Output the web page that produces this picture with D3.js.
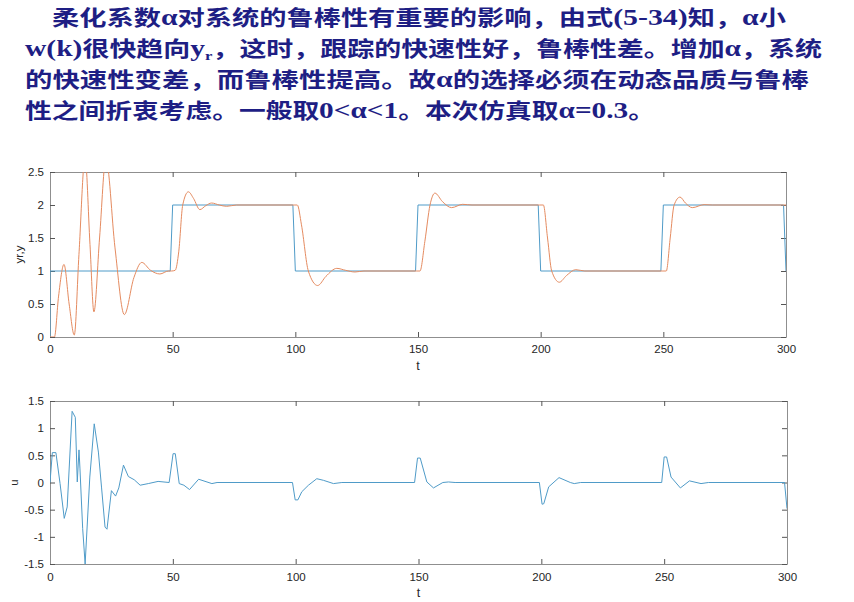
<!DOCTYPE html>
<html>
<head>
<meta charset="utf-8">
<script src="https://cdn.jsdelivr.net/npm/d3@7"></script>
<style>
  html, body { margin: 0; padding: 0; background: #fff; }
  svg { display: block; }
</style>
</head>
<body>
<script>
// ---------------- data ----------------
// header text lines: [kind, text]  c = CJK, l = latin (Times bold), s = subscript
const textLine1 = [["c","柔化系数"],["l","α"],["c","对系统的鲁棒性有重要的影响，由式"],["l","(5-34)"],["c","知，"],["l","α"],["c","小"]];
const textLine2 = [["l","w(k)"],["c","很快趋向"],["l","y"],["s","r"],["c","，这时，跟踪的快速性好，鲁棒性差。增加"],["l","α"],["c","，系统"]];
const textLine3 = [["c","的快速性变差，而鲁棒性提高。故"],["l","α"],["c","的选择必须在动态品质与鲁棒"]];
const textLine4 = [["c","性之间折衷考虑。一般取"],["l","0<α<1"],["c","。本次仿真取"],["l","α=0.3"],["c","。"]];

// reference signal yr (time, value)
const tYr = [0, 0, 49, 50, 99, 100, 149, 150, 199, 200, 249, 250, 299, 300];
const vYr = [0, 1, 1, 2, 2, 1, 1, 2, 2, 1, 1, 2, 2, 1];

// output y (time, value)
const tY = [0, 1.8, 3.5, 5.7, 7.8, 9.9, 11.8, 14.3, 16.3, 17.9, 20.2, 22.8, 26.5, 30.3, 34.2, 37.4, 41, 44.8, 48.3, 49.5,
  51, 52.5, 54.1, 56.4, 58.5, 61.1, 63.5, 65.9, 69, 72, 76, 99.5,
  100.8, 102.5, 105.3, 109.1, 112.5, 116.9, 120.5, 124.3, 128, 149.5,
  150.8, 152.8, 154.9, 156.9, 160, 163.7, 168.2, 172, 199.5,
  201.1, 202.8, 204.5, 207.6, 210.5, 214.3, 218, 249.5,
  251.2, 252.8, 254.4, 256.8, 259, 261.8, 266.6, 270, 300];
const vY = [0, 0, 0.62, 1.10, 0.5, 0.03, 1.25, 2.72, 1.4, 0.38, 1.5, 2.7, 1.35, 0.34, 0.9, 1.13, 1.01, 0.955, 1.0, 1.0,
  1.01, 1.3, 2.0, 2.2, 2.1, 1.93, 1.99, 2.03, 2.0, 1.98, 2.0, 2.0,
  2.0, 1.7, 1.0, 0.78, 0.92, 1.04, 1.01, 0.985, 1.0, 1.0,
  1.0, 1.45, 2.0, 2.18, 2.05, 1.96, 2.01, 2.0, 2.0,
  2.0, 1.5, 1.0, 0.83, 0.93, 1.02, 1.0, 1.0,
  1.0, 1.5, 2.0, 2.12, 2.03, 1.96, 2.005, 2.0, 2.0];

// control u (time, value)
const tU = [0, 0.95, 2.4, 4.1, 5.8, 7.0, 9.0, 10.3, 11.1, 11.8, 12.2, 13.3, 14.3, 16.2, 18.0, 19.7, 21.0, 22.4, 23.2,
  25.0, 26.7, 28.0, 29.9, 31.9, 34.3, 36.7, 40, 44, 48.5, 50.1, 51.0, 52.6, 54.5, 56.8, 60.5, 65.9, 68,
  98.7, 99.8, 100.9, 102.5, 105.2, 108.6, 111.3, 115.4, 118.8,
  148.4, 149.6, 150.7, 153.4, 156.1, 159.9, 162.2, 164.9,
  199.2, 200.3, 201, 203, 207.2, 211.8, 213.4, 216,
  249, 250, 251, 252.8, 256.6, 260.3, 265, 268, 299, 300];
const vU = [0, 0.55, 0.55, -0.02, -0.66, -0.45, 1.31, 1.2, 0.01, 0.6, 0.25, -0.85, -1.5, 0.1, 1.08, 0.56, -0.1, -0.82, -0.86,
  -0.15, -0.25, -0.1, 0.32, 0.11, 0.05, -0.05, -0.02, 0.02, 0.0, 0.53, 0.53, -0.02, -0.05, -0.13, 0.06, -0.02, 0,
  0, -0.32, -0.32, -0.17, -0.05, 0.07, 0.04, -0.02, 0,
  0, 0.45, 0.45, 0.01, -0.1, 0, 0.01, 0,
  0, -0.4, -0.39, -0.08, 0.09, 0, -0.02, 0,
  0, 0.47, 0.47, 0.1, -0.1, 0.03, -0.02, 0, 0, -0.48];

// tick values / labels
const xTicks = [0, 50, 100, 150, 200, 250, 300];
const xTickLabels = ["0", "50", "100", "150", "200", "250", "300"];
const yTopTicks = [0, 0.5, 1, 1.5, 2, 2.5];
const yTopTickLabels = ["0", "0.5", "1", "1.5", "2", "2.5"];
const yBotTicks = [-1.5, -1, -0.5, 0, 0.5, 1, 1.5];
const yBotTickLabels = ["-1.5", "-1", "-0.5", "0", "0.5", "1", "1.5"];
const labelTopY = "yr,y";
const labelBotY = "u";
const labelX = "t";

// ---------------- drawing ----------------
const W = 854, H = 602;
const svg = d3.select("body").append("svg").attr("width", W).attr("height", H);
svg.append("rect").attr("width", W).attr("height", H).attr("fill", "#fff");

// header text
const TEXT_COLOR = "#1e1e84";
const headerLines = [
  {segs: textLine1, x: 52, end: 786, y: 25},
  {segs: textLine2, x: 25, end: 822, y: 56},
  {segs: textLine3, x: 25, end: 809, y: 87},
  {segs: textLine4, x: 25, end: 655, y: 118}
];
headerLines.forEach(line => {
  const t = svg.append("text")
    .attr("x", line.x).attr("y", line.y)
    .attr("fill", TEXT_COLOR)
    .attr("font-size", 21)
    .attr("textLength", line.end - line.x)
    .attr("lengthAdjust", "spacingAndGlyphs");
  let shifted = 0;
  line.segs.forEach(([kind, str]) => {
    const ts = t.append("tspan").text(str);
    if (kind === "c") {
      ts.attr("font-family", "'Noto Sans CJK SC', sans-serif").attr("font-weight", "bold");
    } else {
      ts.attr("font-family", "'Liberation Serif', 'Times New Roman', serif").attr("font-weight", "bold")
        .attr("font-size", 23);
    }
    if (kind === "s") {
      ts.attr("font-size", 13).attr("dy", 3.5);
      shifted = 3.5;
    } else if (shifted) {
      ts.attr("dy", -shifted);
      shifted = 0;
    }
  });
});

const AXIS_COLOR = "#8f8f8f";
const LABEL_COLOR = "#262626";
const FONT = "'Liberation Sans', Arial, sans-serif";

function panel(opts) {
  const {left, right, top, bottom, yDomain, yTicks, yLabels, yTitle, yTitleX, xPad, id} = opts;
  const x = d3.scaleLinear().domain([0, 300]).range([left, right]);
  const y = d3.scaleLinear().domain(yDomain).range([bottom, top]);
  const g = svg.append("g");

  svg.append("clipPath").attr("id", id).append("rect")
    .attr("x", left).attr("y", top).attr("width", right - left).attr("height", bottom - top);

  const styleAxis = (sel) => {
    sel.select(".domain").attr("stroke", AXIS_COLOR).attr("stroke-width", 1);
    sel.selectAll(".tick line").attr("stroke", "#555").attr("stroke-width", 1);
    sel.selectAll(".tick text").attr("fill", LABEL_COLOR).attr("font-family", FONT).attr("font-size", 11.5);
  };

  g.append("g").attr("transform", `translate(0,${bottom})`)
    .call(d3.axisBottom(x).tickValues(xTicks).tickFormat((d, i) => xTickLabels[i])
      .tickSizeInner(-5).tickSizeOuter(0).tickPadding(xPad))
    .call(styleAxis);
  g.append("g").attr("transform", `translate(0,${top})`)
    .call(d3.axisTop(x).tickValues(xTicks).tickFormat("").tickSizeInner(-5).tickSizeOuter(0))
    .call(styleAxis);
  g.append("g").attr("transform", `translate(${left},0)`)
    .call(d3.axisLeft(y).tickValues(yTicks).tickFormat((d, i) => yLabels[i])
      .tickSizeInner(-5).tickSizeOuter(0).tickPadding(6))
    .call(styleAxis);
  g.append("g").attr("transform", `translate(${right},0)`)
    .call(d3.axisRight(y).tickValues(yTicks).tickFormat("").tickSizeInner(-5).tickSizeOuter(0))
    .call(styleAxis);

  // axis titles
  g.append("text")
    .attr("transform", `translate(${yTitleX},${(top + bottom) / 2}) rotate(-90)`)
    .attr("text-anchor", "middle").attr("dy", "0.35em")
    .attr("fill", LABEL_COLOR).attr("font-family", FONT).attr("font-size", 11.5)
    .text(yTitle);
  g.append("text")
    .attr("x", (left + right) / 2).attr("y", opts.xTitleY)
    .attr("text-anchor", "middle").attr("dy", "0.35em")
    .attr("fill", LABEL_COLOR).attr("font-family", FONT).attr("font-size", 12.5)
    .text(labelX);

  return {x, y, plot: svg.append("g").attr("clip-path", `url(#${id})`)};
}

const BLUE = "#4f9bc8";
const ORANGE = "#e58b60";

// top panel
const p1 = panel({left: 50, right: 786, top: 172, bottom: 337, yDomain: [0, 2.5],
  yTicks: yTopTicks, yLabels: yTopTickLabels, yTitle: labelTopY, yTitleX: 19, xPad: 8, xTitleY: 366, id: "clipTop"});
const yrData = tYr.map((t, i) => [t, vYr[i]]);
const yData = tY.map((t, i) => [t, vY[i]]);
p1.plot.append("path").datum(yrData)
  .attr("fill", "none").attr("stroke", BLUE).attr("stroke-width", 1)
  .attr("d", d3.line().x(d => p1.x(d[0])).y(d => p1.y(d[1])));
p1.plot.append("path").datum(yData)
  .attr("fill", "none").attr("stroke", ORANGE).attr("stroke-width", 1)
  .attr("d", d3.line().curve(d3.curveMonotoneX).x(d => p1.x(d[0])).y(d => p1.y(d[1])));

// bottom panel
const p2 = panel({left: 50, right: 787, top: 401, bottom: 564, yDomain: [-1.5, 1.5],
  yTicks: yBotTicks, yLabels: yBotTickLabels, yTitle: labelBotY, yTitleX: 14, xPad: 9, xTitleY: 593, id: "clipBot"});
const uData = tU.map((t, i) => [t, vU[i]]);
p2.plot.append("path").datum(uData)
  .attr("fill", "none").attr("stroke", BLUE).attr("stroke-width", 1)
  .attr("d", d3.line().x(d => p2.x(d[0])).y(d => p2.y(d[1])));
</script>
</body>
</html>
